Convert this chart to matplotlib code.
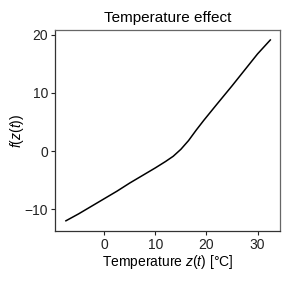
import numpy as np
import matplotlib
matplotlib.use('Agg')
import matplotlib.pyplot as plt

plt.rcParams['font.family'] = ['Liberation Sans', 'DejaVu Sans']
plt.rcParams['mathtext.fontset'] = 'custom'
plt.rcParams['mathtext.it'] = 'Liberation Sans:italic'
plt.rcParams['mathtext.rm'] = 'Liberation Sans'
plt.rcParams['font.size'] = 10

# temperature effect curve
temp = [-7.5, -5, -2.5, 0, 2.5, 5, 7.5, 10, 12, 13.5, 15, 16.5, 18, 19.5, 22, 25, 28, 30, 32.5]
effect = [-12.0, -10.8, -9.5, -8.2, -6.9, -5.5, -4.2, -2.9, -1.8, -0.9, 0.3, 1.8, 3.6, 5.3, 8.0, 11.2, 14.5, 16.7, 19.1]

fig = plt.figure(figsize=(2.92, 2.92), dpi=100)
ax = fig.add_axes([0.189, 0.21, 0.77, 0.687])

ax.plot(temp, effect, color='black', lw=1.1)

ax.set_xlim(-9.6, 34.4)
ax.set_ylim(-13.7, 20.8)
ax.set_xticks([0, 10, 20, 30])
ax.set_yticks([-10, 0, 10, 20])
ax.tick_params(direction='out', length=3, width=0.8, colors='#222222', labelsize=10, pad=2)

for side in ['left', 'bottom']:
    ax.spines[side].set_color('#333333')
for side in ['top', 'right']:
    ax.spines[side].set_color('#666666')
for s in ax.spines.values():
    s.set_linewidth(0.9)

ax.set_title('Temperature effect', fontsize=11, pad=6)
ax.set_xlabel('Temperature $z(t)$ [°C]', fontsize=10, labelpad=1)
ax.set_ylabel('$f(z(t))$', fontsize=10, labelpad=-1)

fig.savefig('out.png', dpi=100)
